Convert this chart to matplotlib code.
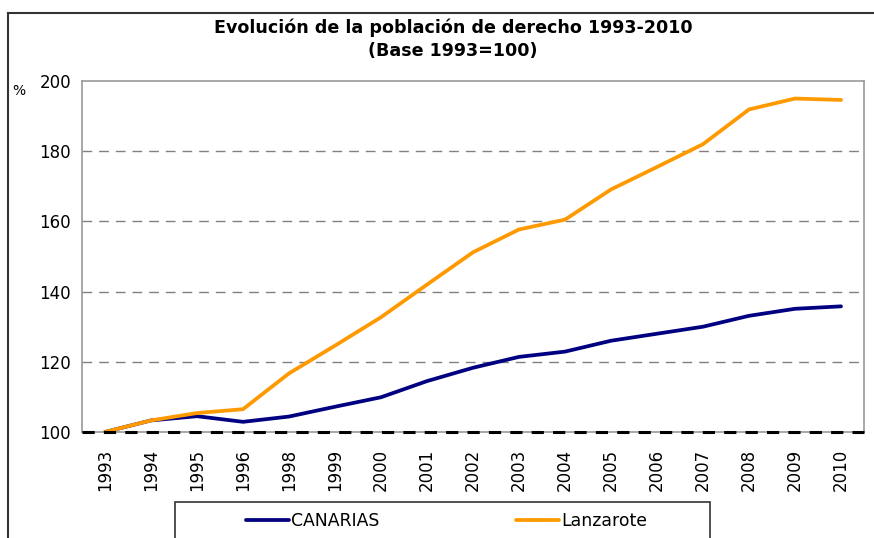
import matplotlib.pyplot as plt
from matplotlib.lines import Line2D
from matplotlib.patches import Rectangle

years = ['1993', '1994', '1995', '1996', '1998', '1999', '2000', '2001', '2002',
         '2003', '2004', '2005', '2006', '2007', '2008', '2009', '2010']
canarias = [100, 103.3, 104.5, 102.9, 104.4, 107.2, 109.9, 114.5, 118.3,
            121.4, 122.9, 126.0, 128.0, 130.0, 133.1, 135.1, 135.8]
lanzarote = [100, 103.3, 105.4, 106.5, 116.7, 124.6, 132.7, 142.0, 151.2,
             157.7, 160.5, 169.1, 175.5, 182.0, 191.9, 195.0, 194.6]

navy = '#000080'
orange = '#FF9900'

fig = plt.figure(figsize=(8.74, 5.38), dpi=100)
ax = fig.add_axes([82/874, 1 - 432/538, (864-82)/874, (432-81)/538])

x = range(len(years))
ax.plot(x, canarias, color=navy, lw=2.7, label='CANARIAS', solid_capstyle='round')
ax.plot(x, lanzarote, color=orange, lw=2.7, label='Lanzarote', solid_capstyle='round')

ax.set_xlim(-0.5, len(years) - 0.5)
ax.set_ylim(100, 200)
ax.set_yticks([100, 120, 140, 160, 180, 200])
ax.set_xticks(list(x))
ax.set_xticklabels(years, rotation=90)
ax.tick_params(length=0, labelsize=12, pad=8)
ax.tick_params(axis='x', pad=12)

# gridlines and dashed base line
for v in [120, 140, 160, 180]:
    ax.axhline(v, color='#808080', lw=1, ls=(0, (7, 5)), zorder=0)
ax.axhline(100, color='black', lw=2.2, ls=(0, (4, 3)), zorder=3, clip_on=False)

for s in ax.spines.values():
    s.set_color('#999999')
    s.set_linewidth(1.2)

fig.text(453/874, 1 - 28/538, 'Evolución de la población de derecho 1993-2010',
         ha='center', va='center', fontsize=12.6, fontweight='bold')
fig.text(453/874, 1 - 51/538, '(Base 1993=100)',
         ha='center', va='center', fontsize=12.6, fontweight='bold')
fig.text(12/874, 1 - 91/538, '%', ha='left', va='center', fontsize=10)

# outer chart frame (cut off at right and bottom)
fig.add_artist(Line2D([8/874, 8/874], [0, 1 - 13/538], transform=fig.transFigure,
                      color='#333333', lw=1.5))
fig.add_artist(Line2D([8/874, 1], [1 - 13/538, 1 - 13/538], transform=fig.transFigure,
                      color='#333333', lw=1.5))

# legend box
fig.add_artist(Rectangle((175/874, -0.05), (710-175)/874, 0.05 + 1 - 502/538,
                         transform=fig.transFigure, fill=False, ec='#333333', lw=1.2))
fig.legend(loc='center left', bbox_to_anchor=(230/874, 1 - 521/538), ncol=2,
           frameon=False, fontsize=12.4, handlelength=2.5, handletextpad=0.15,
           columnspacing=7.9)

fig.savefig('out.png', dpi=100)
